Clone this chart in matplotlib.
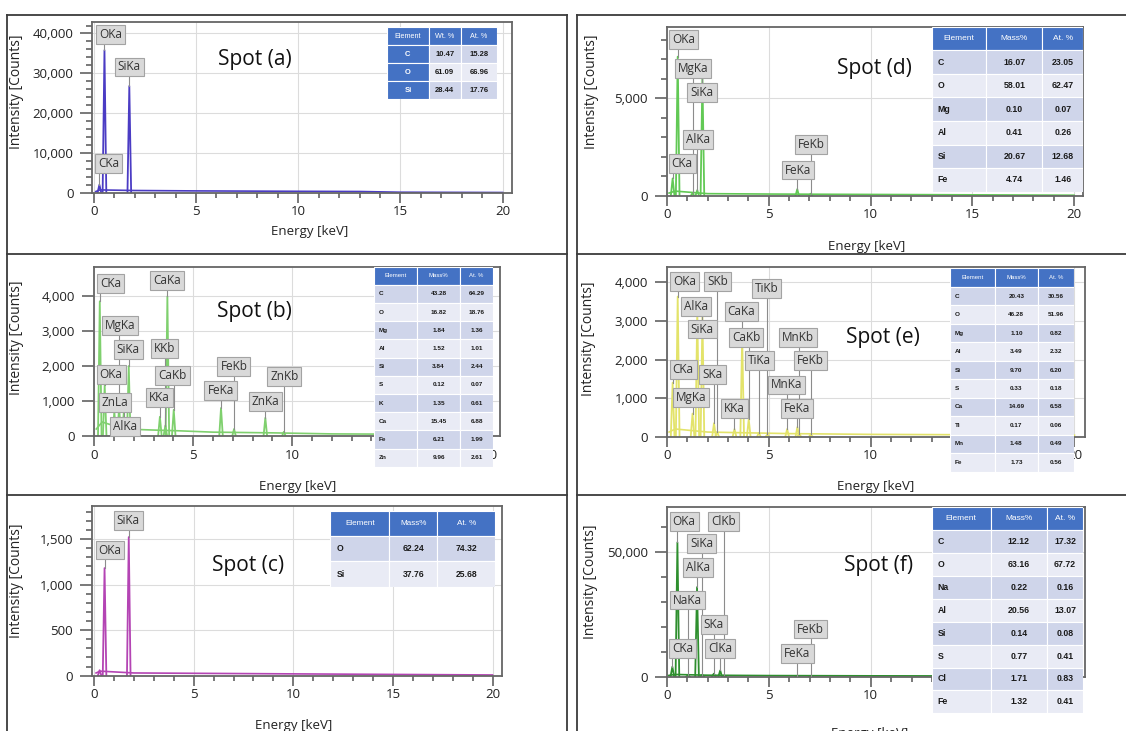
import matplotlib.pyplot as plt
import matplotlib.ticker as mticker
from matplotlib.patches import Rectangle
from matplotlib.lines import Line2D

plt.rcParams['font.family'] = ['Open Sans', 'DejaVu Sans']

W, H = 1126, 731   # output size in pixels

# ---------------- Spot (a) ----------------
a_lines = ['CKa', 'OKa', 'SiKa']
a_energy = [0.277, 0.525, 1.740]
a_counts = [2000, 35800, 26800]
a_bg_energy = [0.1, 0.3, 2, 5, 10, 13, 15, 20]
a_bg_counts = [300, 700, 550, 450, 350, 300, 120, 50]
a_elements = ['C', 'O', 'Si']
a_mass = [10.47, 61.09, 28.44]
a_atomic = [15.28, 66.96, 17.76]

# ---------------- Spot (b) ----------------
b_lines = ['CKa', 'OKa', 'ZnLa', 'MgKa', 'AlKa', 'SiKa', 'KKa', 'KKb',
           'CaKa', 'CaKb', 'FeKa', 'FeKb', 'ZnKa', 'ZnKb']
b_energy = [0.277, 0.525, 1.012, 1.254, 1.487, 1.740, 3.313, 3.589,
            3.691, 4.012, 6.400, 7.058, 8.638, 9.572]
b_counts = [3850, 1450, 700, 850, 650, 2000, 550, 300,
            3990, 750, 800, 200, 520, 120]
b_bg_energy = [0.1, 0.4, 1.5, 3, 4.2, 6, 9, 12, 20]
b_bg_counts = [200, 400, 200, 170, 150, 110, 90, 60, 40]
b_elements = ['C', 'O', 'Mg', 'Al', 'Si', 'S', 'K', 'Ca', 'Fe', 'Zn']
b_mass = [43.28, 16.82, 1.84, 1.52, 3.84, 0.12, 1.35, 15.45, 6.21, 9.96]
b_atomic = [64.29, 18.76, 1.36, 1.01, 2.44, 0.07, 0.61, 6.88, 1.99, 2.61]

# ---------------- Spot (c) ----------------
c_lines = ['CKa', 'OKa', 'SiKa']
c_energy = [0.277, 0.525, 1.740]
c_counts = [60, 1180, 1520]
c_bg_energy = [0.1, 0.3, 2, 6, 10, 20]
c_bg_counts = [30, 50, 30, 25, 20, 8]
c_elements = ['O', 'Si']
c_mass = [62.24, 37.76]
c_atomic = [74.32, 25.68]

# ---------------- Spot (d) ----------------
d_lines = ['CKa', 'OKa', 'MgKa', 'AlKa', 'SiKa', 'FeKa', 'FeKb']
d_energy = [0.277, 0.525, 1.254, 1.487, 1.740, 6.400, 7.058]
d_counts = [900, 7130, 150, 300, 6100, 350, 120]
d_bg_energy = [0.1, 0.4, 2, 5, 10, 15, 20]
d_bg_counts = [150, 250, 120, 100, 80, 60, 40]
d_elements = ['C', 'O', 'Mg', 'Al', 'Si', 'Fe']
d_mass = [16.07, 58.01, 0.10, 0.41, 20.67, 4.74]
d_atomic = [23.05, 62.47, 0.07, 0.26, 12.68, 1.46]

# ---------------- Spot (e) ----------------
e_lines = ['CKa', 'OKa', 'MgKa', 'AlKa', 'SiKa', 'SKa', 'SKb', 'KKa',
           'CaKa', 'CaKb', 'TiKa', 'TiKb', 'MnKa', 'FeKa', 'MnKb', 'FeKb']
e_energy = [0.277, 0.525, 1.254, 1.487, 1.740, 2.308, 2.464, 3.313,
            3.691, 4.012, 4.510, 4.931, 5.898, 6.400, 6.490, 7.058]
e_counts = [1400, 3630, 600, 3240, 3100, 350, 120, 200,
            2590, 450, 100, 60, 200, 250, 80, 60]
e_bg_energy = [0.1, 0.4, 2, 4, 6, 10, 20]
e_bg_counts = [120, 200, 120, 100, 80, 60, 40]
e_elements = ['C', 'O', 'Mg', 'Al', 'Si', 'S', 'Ca', 'Ti', 'Mn', 'Fe']
e_mass = [20.43, 46.28, 1.10, 3.49, 9.70, 0.33, 14.69, 0.17, 1.48, 1.73]
e_atomic = [30.56, 51.96, 0.82, 2.32, 6.20, 0.18, 6.58, 0.06, 0.49, 0.56]

# ---------------- Spot (f) ----------------
f_lines = ['CKa', 'OKa', 'NaKa', 'AlKa', 'SiKa', 'SKa', 'ClKa', 'ClKb',
           'FeKa', 'FeKb']
f_energy = [0.277, 0.525, 1.041, 1.487, 1.740, 2.308, 2.622, 2.815,
            6.400, 7.058]
f_counts = [4000, 54000, 600, 36000, 800, 1200, 2500, 500, 400, 150]
f_bg_energy = [0.1, 0.4, 2, 5, 10, 20]
f_bg_counts = [500, 900, 600, 450, 350, 250]
f_elements = ['C', 'O', 'Na', 'Al', 'Si', 'S', 'Cl', 'Fe']
f_mass = [12.12, 63.16, 0.22, 20.56, 0.14, 0.77, 1.71, 1.32]
f_atomic = [17.32, 67.72, 0.16, 13.07, 0.08, 0.41, 0.83, 0.41]

# layout of each panel (pixel boxes are left, top, right, bottom)
panels = [
    dict(name='Spot (a)', lines=a_lines, energy=a_energy, counts=a_counts,
         bg=(a_bg_energy, a_bg_counts), color='#4b3cc4',
         table=(a_elements, a_mass, a_atomic), mass_head='Wt. %',
         axes=(92.3, 21.7, 511.7, 192.7), xlim=(-0.07, 20.44), ytop=42960,
         ymajor=10000, yminor=2000,
         labels=[(0.73, 7340), (0.82, 39750), (1.73, 31580)],
         tbox=(387, 27, 497, 99), tcols=[0.38, 0.29, 0.33], tfs=5.5,
         blue_first=True,
         title=(255, 59), ylab=(17, 92), xlab=(310, 232)),
    dict(name='Spot (b)', lines=b_lines, energy=b_energy, counts=b_counts,
         bg=(b_bg_energy, b_bg_counts), color='#7fd06e',
         table=(b_elements, b_mass, b_atomic), mass_head='Mass%',
         axes=(94, 266.7, 500, 436), xlim=(-0.015, 20.49), ytop=4840,
         ymajor=1000, yminor=None,
         labels=[(0.81, 4350), (0.85, 1750), (1.05, 970), (1.30, 3150),
                 (1.55, 270), (1.72, 2470), (3.29, 1110), (3.55, 2510),
                 (3.67, 4440), (3.95, 1740), (6.38, 1310), (7.05, 1980),
                 (8.65, 980), (9.59, 1690)],
         tbox=(374.3, 266.7, 493.3, 466.7), tcols=[0.36, 0.36, 0.28], tfs=4.6,
         blue_first=False,
         title=(254, 311.7), ylab=(17, 337.5), xlab=(298, 486.7)),
    dict(name='Spot (c)', lines=c_lines, energy=c_energy, counts=c_counts,
         bg=(c_bg_energy, c_bg_counts), color='#b444b4',
         table=(c_elements, c_mass, c_atomic), mass_head='Mass%',
         axes=(91.7, 506, 501.7, 675.7), xlim=(-0.12, 20.46), ytop=1861,
         ymajor=500, yminor=100,
         labels=[None, (0.80, 1378), (1.72, 1700)],
         tbox=(330, 510.7, 495, 586.7), tcols=[0.36, 0.29, 0.35], tfs=6.2,
         blue_first=False,
         title=(248.3, 566), ylab=(17, 581), xlab=(293.5, 725)),
    dict(name='Spot (d)', lines=d_lines, energy=d_energy, counts=d_counts,
         bg=(d_bg_energy, d_bg_counts), color='#62c955',
         table=(d_elements, d_mass, d_atomic), mass_head='Mass%',
         axes=(666.7, 26.7, 1083, 196), xlim=(-0.015, 20.44), ytop=8665,
         ymajor=5000, yminor=1000,
         labels=[(0.74, 1670), (0.81, 8020), (1.27, 6520), (1.54, 2890),
                 (1.72, 5280), (6.42, 1330), (7.08, 2630)],
         tbox=(931.7, 26.7, 1083.3, 191.7), tcols=[0.36, 0.37, 0.27], tfs=6.3,
         blue_first=False,
         title=(874, 68.3), ylab=(591.5, 92), xlab=(866.7, 246.7)),
    dict(name='Spot (e)', lines=e_lines, energy=e_energy, counts=e_counts,
         bg=(e_bg_energy, e_bg_counts), color='#e3e36a',
         table=(e_elements, e_mass, e_atomic), mass_head='Mass%',
         axes=(667, 267.3, 1085, 436.7), xlim=(0, 20.52), ytop=4389,
         ymajor=1000, yminor=None,
         labels=[(0.79, 1730), (0.87, 4010), (1.17, 1020), (1.44, 3370),
                 (1.73, 2790), (2.23, 1620), (2.48, 4010), (3.32, 735),
                 (3.65, 3240), (3.89, 2580), (4.53, 1970), (4.89, 3840),
                 (5.88, 1340), (6.37, 735), (6.41, 2580), (7.04, 1970)],
         tbox=(950, 268.3, 1074, 471.7), tcols=[0.36, 0.35, 0.29], tfs=4.6,
         blue_first=False,
         title=(882.7, 337.3), ylab=(589, 339), xlab=(876, 486.7)),
    dict(name='Spot (f)', lines=f_lines, energy=f_energy, counts=f_counts,
         bg=(f_bg_energy, f_bg_counts), color='#2e8f2e',
         table=(f_elements, f_mass, f_atomic), mass_head='Mass%',
         axes=(666.7, 507.3, 1085, 676.7), xlim=(0, 20.5), ytop=68100,
         ymajor=50000, yminor=10000,
         labels=[(0.77, 11400), (0.86, 62500), (1.02, 30830), (1.55, 43890),
                 (1.71, 53460), (2.31, 21100), (2.61, 11400), (2.79, 62500),
                 (6.41, 9400), (7.05, 19170)],
         tbox=(931.7, 507.3, 1083.3, 713.3), tcols=[0.39, 0.37, 0.24], tfs=6.3,
         blue_first=False,
         title=(878.3, 565), ylab=(590, 581.7), xlab=(870, 733)),
]

HEAD = '#4472c4'
BAND = ['#cfd5ea', '#e9ebf5']
PEAK_HALF = 0.09   # half base width of a drawn peak, keV


def fig_xy(px, py):
    return px / W, 1 - py / H


def draw_table(fig, p):
    elements, mass, atomic = p['table']
    l, t, r, b = p['tbox']
    tax = fig.add_axes([l / W, 1 - b / H, (r - l) / W, (b - t) / H])
    tax.set_zorder(10)
    tax.set_xlim(0, 1)
    tax.set_ylim(len(elements) + 1, 0)
    tax.axis('off')
    xs = [0, p['tcols'][0], p['tcols'][0] + p['tcols'][1], 1]
    fs = p['tfs']
    head = ['Element', p['mass_head'], 'At. %']
    for c in range(3):
        tax.add_patch(Rectangle((xs[c], 0), xs[c + 1] - xs[c], 1, fc=HEAD,
                                ec='white', lw=0.8))
        tax.text((xs[c] + xs[c + 1]) / 2, 0.5, head[c], ha='center',
                 va='center', color='white', fontsize=fs - 0.3,
                 family='Liberation Sans')
    for i, (el, m, a) in enumerate(zip(elements, mass, atomic)):
        row = i + 1
        band = BAND[i % 2]
        cells = [el, f'{m:.2f}', f'{a:.2f}']
        for c in range(3):
            fc = band
            tc = '#1a1a1a'
            if c == 0 and p['blue_first']:
                fc, tc = HEAD, 'white'
            tax.add_patch(Rectangle((xs[c], row), xs[c + 1] - xs[c], 1,
                                    fc=fc, ec='white', lw=0.8))
            if c == 0 and not p['blue_first']:
                tax.text(xs[0] + 0.04, row + 0.5, cells[c], ha='left',
                         va='center', color=tc, fontsize=fs,
                         fontweight='bold', family='Liberation Sans')
            else:
                tax.text((xs[c] + xs[c + 1]) / 2, row + 0.5, cells[c],
                         ha='center', va='center', color=tc, fontsize=fs,
                         fontweight='bold', family='Liberation Sans')


fig = plt.figure(figsize=(W / 100, H / 100), dpi=100)

# panel frames
frame_kw = dict(color='#3c3c3c', lw=1.3)
for x0, x1 in [(7, 567), (577, 1130)]:
    for y in (15, 254, 495):
        fig.add_artist(Line2D([x0 / W, x1 / W], [1 - y / H] * 2, **frame_kw))
    for x in (x0, x1):
        fig.add_artist(Line2D([x / W] * 2, [1 - 15 / H, 0], **frame_kw))

for p in panels:
    l, t, r, b = p['axes']
    ax = fig.add_axes([l / W, 1 - b / H, (r - l) / W, (b - t) / H])
    ax.set_xlim(*p['xlim'])
    ax.set_ylim(0, p['ytop'])

    # spectrum: background plus one narrow spike per identified line
    ax.plot(p['bg'][0], p['bg'][1], color=p['color'], lw=1.2, zorder=2)
    for e, h in zip(p['energy'], p['counts']):
        ax.plot([e - PEAK_HALF, e, e + PEAK_HALF], [0, h, 0],
                color=p['color'], lw=1.3, zorder=2)

    # peak labels with pointer lines
    for name, e, h, pos in zip(p['lines'], p['energy'], p['counts'],
                               p['labels']):
        if pos is None:
            continue
        ax.plot([e, e], [pos[1], h], color='#8c8c8c', lw=0.8, zorder=3,
                clip_on=False)
        ax.text(pos[0], pos[1], name, ha='center', va='center', fontsize=8.5,
                color='#333333', zorder=4, clip_on=False,
                bbox=dict(boxstyle='square,pad=0.25', fc='#d9d9d9',
                          ec='#a3a3a3', lw=0.8))

    # axes styling
    ax.xaxis.set_major_locator(mticker.MultipleLocator(5))
    ax.xaxis.set_minor_locator(mticker.MultipleLocator(1))
    ax.yaxis.set_major_locator(mticker.MultipleLocator(p['ymajor']))
    if p['yminor']:
        ax.yaxis.set_minor_locator(mticker.MultipleLocator(p['yminor']))
    ax.yaxis.set_major_formatter(mticker.StrMethodFormatter('{x:,.0f}'))
    ax.tick_params(axis='both', which='both', color='#555555', width=1.1,
                   labelcolor='#222222', labelsize=9.5)
    ax.tick_params(axis='y', which='major', length=8.5, pad=5)
    ax.tick_params(axis='y', which='minor', length=4)
    ax.tick_params(axis='x', which='major', length=7, pad=2)
    ax.tick_params(axis='x', which='minor', length=3.5)
    for s in ax.spines.values():
        s.set_color('#666666')
        s.set_linewidth(1.3)
    ax.grid(True, which='major', color='#dcdcdc', lw=0.8)
    ax.set_axisbelow(True)

    ax.set_xlabel('Energy [keV]', fontsize=9.5, color='#222222', va='center')
    ax.xaxis.set_label_coords(*fig_xy(*p['xlab']), transform=fig.transFigure)
    ax.set_ylabel('Intensity [Counts]', fontsize=10, color='#222222',
                  va='center')
    ax.yaxis.set_label_coords(*fig_xy(*p['ylab']), transform=fig.transFigure)

    tx, ty = fig_xy(*p['title'])
    fig.text(tx, ty, p['name'], ha='center', va='center', fontsize=15,
             color='#111111')

    draw_table(fig, p)

fig.savefig('out.png', dpi=100)
